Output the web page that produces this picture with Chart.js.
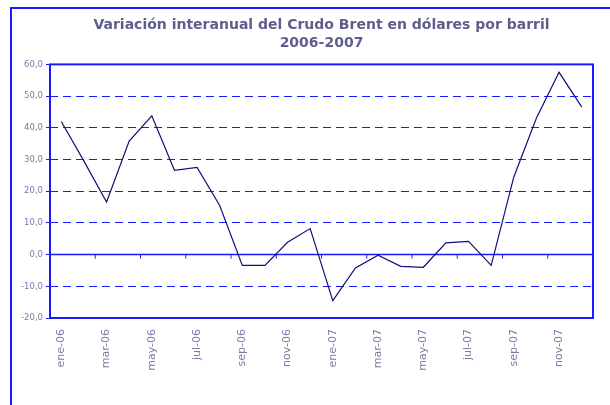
<!DOCTYPE html>
<html>
<head>
<meta charset="utf-8">
<script src="https://cdn.jsdelivr.net/npm/chart.js@4/dist/chart.umd.min.js"></script>
<style>
  html, body { margin: 0; padding: 0; background: #fff; overflow: hidden; }
  #frame { position: absolute; left: 10px; top: 7px; width: 700px; height: 500px; border: 2px solid #1a1aff; box-sizing: border-box; }
  #wrap { position: absolute; left: 0; top: 0; width: 656px; height: 405px; }
</style>
</head>
<body>
<div id="frame"></div>
<div id="wrap"><canvas id="brentChart" width="656" height="405"></canvas></div>
<script>
// Variación interanual del Brent
const months = [
  "ene-06", "feb-06", "mar-06", "abr-06", "may-06", "jun-06",
  "jul-06", "ago-06", "sep-06", "oct-06", "nov-06", "dic-06",
  "ene-07", "feb-07", "mar-07", "abr-07", "may-07", "jun-07",
  "jul-07", "ago-07", "sep-07", "oct-07", "nov-07", "dic-07"
];
const variation = [
  42.0, 29.5, 16.6, 35.8, 43.8, 26.6,
  27.5, 15.5, -3.4, -3.4, 3.9, 8.2,
  -14.5, -4.2, -0.2, -3.7, -4.0, 3.7,
  4.2, -3.4, 24.5, 43.1, 57.5, 46.6
];
const titleLines = ["Variación interanual del Crudo Brent en dólares por barril", "2006-2007"];
const yMin = -20;
const yMax = 60;
const yStep = 10;

const axisBlue = "#1a1aff";
const labelColor = "#7a7aa6";

// plot frame, solid zero line and the little ticks hanging from it
const plotFrame = {
  id: "plotFrame",
  beforeDatasetsDraw(chart) {
    const { ctx, chartArea, scales } = chart;
    const x = scales.x;
    const y0 = scales.y.getPixelForValue(0);
    ctx.save();
    ctx.setLineDash([]);
    ctx.strokeStyle = axisBlue;
    ctx.lineWidth = 1.5;
    ctx.beginPath();
    ctx.moveTo(chartArea.left, y0);
    ctx.lineTo(chartArea.right, y0);
    ctx.stroke();
    ctx.lineWidth = 1;
    for (let k = 2; k <= months.length; k += 2) {
      const px = k < months.length
        ? (x.getPixelForValue(k - 1) + x.getPixelForValue(k)) / 2
        : chartArea.right;
      ctx.beginPath();
      ctx.moveTo(px, y0);
      ctx.lineTo(px, y0 + 4);
      ctx.stroke();
    }
    ctx.lineWidth = 2;
    ctx.strokeRect(chartArea.left, chartArea.top, chartArea.right - chartArea.left, chartArea.bottom - chartArea.top);
    ctx.restore();
  }
};

new Chart(document.getElementById("brentChart"), {
  type: "line",
  data: {
    labels: months,
    datasets: [{
      data: variation,
      borderColor: "#10107a",
      borderWidth: 1.2,
      pointRadius: 0,
      tension: 0,
      fill: false
    }]
  },
  options: {
    responsive: false,
    animation: false,
    layout: { padding: { left: 0, right: 63, top: 0, bottom: 0 } },
    plugins: {
      legend: { display: false },
      tooltip: { enabled: false },
      title: {
        display: true,
        fullSize: false,
        text: titleLines,
        color: "#5e5e8e",
        font: { family: "DejaVu Sans", size: 14, weight: "bold", lineHeight: 1.3 },
        padding: { top: 16, bottom: 12 }
      }
    },
    scales: {
      x: {
        offset: true,
        grid: { display: false },
        border: { display: false },
        ticks: {
          autoSkip: false,
          minRotation: 90,
          maxRotation: 90,
          padding: 3,
          color: labelColor,
          font: { family: "DejaVu Sans", size: 11 },
          callback: (v, i) => (i % 2 === 0 ? months[i] : "")
        },
        afterFit(scale) { scale.height = 87; }
      },
      y: {
        min: yMin,
        max: yMax,
        ticks: {
          stepSize: yStep,
          padding: 3,
          color: labelColor,
          font: { family: "DejaVu Sans", size: 8.5 },
          callback: (v) => v.toFixed(1).replace(".", ",")
        },
        grid: { color: axisBlue, lineWidth: 1, tickLength: 4 },
        border: { display: false, dash: [8, 5] },
        afterFit(scale) { scale.width = 50; }
      }
    }
  },
  plugins: [plotFrame]
});
</script>
</body>
</html>
